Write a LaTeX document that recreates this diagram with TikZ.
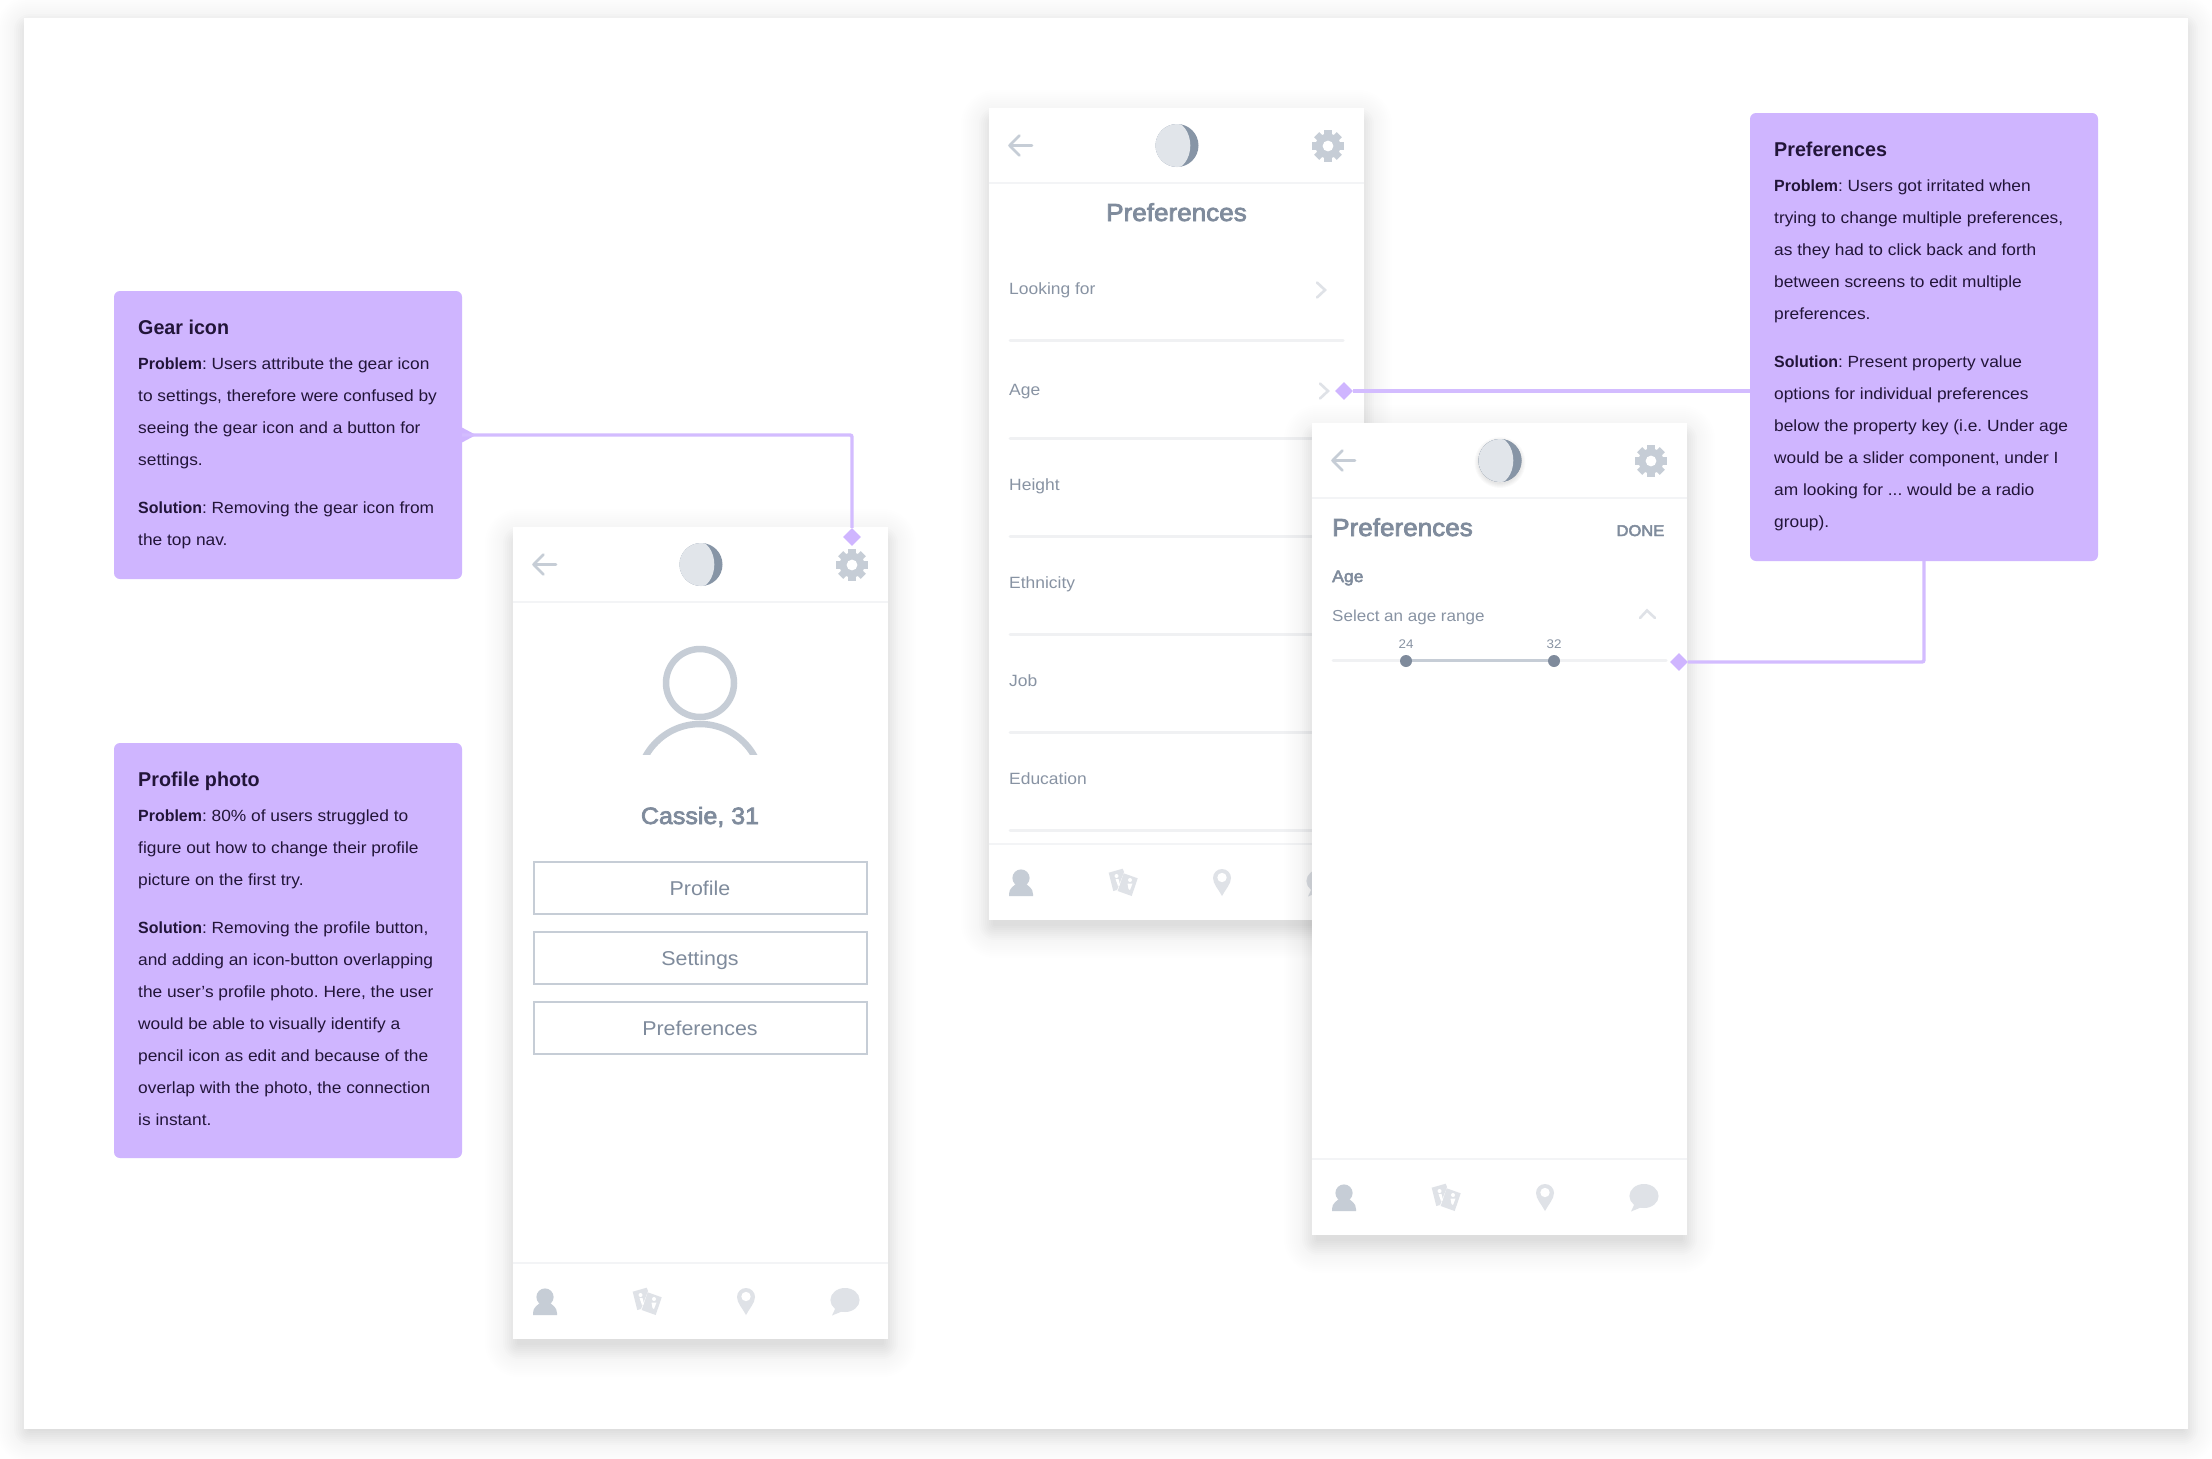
\documentclass[tikz,border=0pt]{standalone}
\usepackage{fontspec}
\usetikzlibrary{shapes.geometric}
\setmainfont[FakeStretch=1.07]{Liberation Sans}
\newfontfamily\medf[FakeStretch=1.06,FakeBold=3]{Liberation Sans}
\newfontfamily\bff[UprightFont=* Bold,FakeStretch=0.985]{Liberation Sans}
\definecolor{lilac}{HTML}{CFB5FF}
\definecolor{lilacln}{HTML}{D3BCFF}
\definecolor{inkdark}{HTML}{221539}
\definecolor{greytext}{HTML}{7F8B9C}
\definecolor{greylabel}{HTML}{8893A3}
\definecolor{icon}{HTML}{C6CDD6}
\definecolor{iconlight}{HTML}{DFE2E7}
\definecolor{rule}{HTML}{F0F1F3}
\definecolor{headrule}{HTML}{F3F4F6}
\definecolor{moondark}{HTML}{8795A6}
\definecolor{moonlight}{HTML}{E1E5EA}
\newcommand{\softshadow}[5]{% x1 y1 x2 y2 dy
  \foreach \sd in {12,14,...,28}{
    \fill[black,opacity=0.0045,rounded corners=\sd+6]
      ({#1-\sd},{#2+#5-\sd}) rectangle ({#3+\sd},{#4+#5+\sd});
  }
  \foreach \sd in {-4,-2,...,10}{
    \fill[black,opacity=0.012,rounded corners=\sd+6]
      ({#1-\sd},{#2+#5-\sd}) rectangle ({#3+\sd},{#4+#5+\sd});
  }}
\newcommand{\gearicon}{%
  \foreach \ang in {0,45,...,315}{
    \fill[icon,rotate=\ang] (-3.6,-16) rectangle (3.6,-9);
  }
  \fill[icon] (0,0) circle[radius=12.5];
  \fill[white] (0,0) circle[radius=5.4];}
\newcommand{\moonicon}{%
  \fill[moondark] (0,0) circle[radius=21.5];
  \begin{scope}
    \clip (0,0) circle[radius=21.5];
    \fill[moonlight] (-4.5,0) ellipse[x radius=17.8, y radius=24];
  \end{scope}}
% #1 prefix, #2 x, #3 y : screen frame with header and footer
\newcommand{\screenframe}[3]{%
  \softshadow{#2}{#3}{#2+375}{#3+812}{10}
  \node[screen,minimum width=375,minimum height=812] (#1) at (#2+187.5,#3+406) {};
  \begin{scope}[shift={(#2,#3)}]
    \draw[line width=1.5,headrule] (0,75) -- (375,75);
    \draw[line width=1.5,headrule] (0,736) -- (375,736);
    % back arrow
    \draw[line width=2.6,icon,line cap=round,line join=round] (43,37.5) -- (20.5,37.5) (30.5,27.5) -- (20.5,37.5) -- (30.5,47.5);
    % logo
    \begin{scope}[shift={(188,37.5)}]\moonicon\end{scope}
    % gear
    \begin{scope}[shift={(339,38)}]\gearicon\end{scope}
    % person tab
    \fill[icon] (32,770) circle[radius=8.6];
    \fill[icon] (20,788) -- (20,786) .. controls (20,780) and (25,778) .. (28,775) -- (36,775) .. controls (39,778) and (44,780) .. (44,786) -- (44,788) -- cycle;
    % cards tab
    \fill[iconlight] (119.7,764.7) -- (133.7,760.7) -- (135,764) -- (128,782) -- (124.3,783) -- cycle;
    \fill[iconlight] (134.7,765.3) -- (148.7,770.3) -- (142.7,788) -- (128.7,783) -- cycle;
    \fill[white] (127.5,768) circle[radius=2];
    \fill[white] (126.5,771) -- (129.5,771) -- (131,777) -- (129,778) -- cycle;
    \fill[white] (141,772) circle[radius=2];
    \fill[white] (138.5,775.5) -- (143.5,775.5) -- (141,782) -- (139.5,781) -- cycle;
    % pin tab
    \fill[iconlight] (233,788) .. controls (230,782) and (224,776) .. (224,770) .. controls (224,765) and (228,761) .. (233,761) .. controls (238,761) and (242,765) .. (242,770) .. controls (242,776) and (236,782) .. (233,788) -- cycle;
    \fill[white] (233,769.5) circle[radius=4.7];
    % chat tab
    \fill[iconlight] (332,773) ellipse[x radius=14.6, y radius=12];
    \fill[iconlight] (323,780) -- (319,788.5) -- (330,784) -- cycle;
  \end{scope}}
\tikzset{
  screen/.style={fill=white,draw=none,inner sep=0,rectangle},
  callbox/.style={fill=lilac,draw=none,rounded corners=6,inner sep=0,rectangle,minimum width=348},
  calltitle/.style={inner sep=0,anchor=base west,text=inkdark,font=\bff\fontsize{20}{24}\selectfont},
  callbody/.style={inner sep=0,anchor=north west,align=left,text=inkdark,font=\frenchspacing\fontsize{16.2}{32}\selectfont},
  lab/.style={inner sep=0,anchor=base west,text=greylabel,font=\frenchspacing\fontsize{16.3}{20}\selectfont},
  heading/.style={inner sep=0,anchor=base,text=greytext,font=\medf\fontsize{24.6}{28}\selectfont},
  btn/.style={draw=icon,line width=2.2,fill=white,inner sep=0,rectangle,minimum width=333,minimum height=52},
  btntext/.style={inner sep=0,anchor=base,text=greytext,font=\fontsize{20}{24}\selectfont},
  conn/.style={draw=lilacln,line width=3.4,rounded corners=2},
  dia/.style={diamond,fill=lilac,draw=none,inner sep=0,minimum width=18,minimum height=18},
  chev/.style={draw=iconlight,line width=2.6,line cap=round,line join=miter},
  divline/.style={draw=rule,line width=3,line cap=round},
}
\newcommand{\lstrut}{\rule{0pt}{13pt}}
\newcommand{\bt}[1]{{\bff #1}}
\begin{document}
\begin{tikzpicture}[x=1pt,y=-1pt]
\useasboundingbox (0,0) rectangle (2212,1459);
\fill[white] (0,0) rectangle (2212,1459);
% sheet
\softshadow{24}{18}{2188}{1429}{6}
\node[screen,minimum width=2164,minimum height=1411] (sheet) at (1106,723.5) {};

% --- callouts
\node[callbox,minimum height=288] (gcall) at (288,435) {};
\fill[lilac] (461,427) -- (476,435) -- (461,443) -- cycle;
\node[calltitle] (gtitle) at (138,334) {Gear icon};
\node[callbody] (gbody) at (138,356) {\lstrut\bt{Problem}: Users attribute the gear icon\\
to settings, therefore were confused by\\
seeing the gear icon and a button for\\
settings.\\[16pt]
\bt{Solution}: Removing the gear icon from\\
the top nav.};

\node[callbox,minimum height=415] (ccall) at (288,950.5) {};
\node[calltitle] (ctitle) at (138,786) {Profile photo};
\node[callbody] (cbody) at (138,808) {\lstrut\bt{Problem}: 80\% of users struggled to\\
figure out how to change their profile\\
picture on the first try.\\[16pt]
\bt{Solution}: Removing the profile button,\\
and adding an icon-button overlapping\\
the user’s profile photo. Here, the user\\
would be able to visually identify a\\
pencil icon as edit and because of the\\
overlap with the photo, the connection\\
is instant.};

\node[callbox,minimum height=448] (pcall) at (1924,337) {};
\node[calltitle] (ptitle) at (1774,156) {Preferences};
\node[callbody] (pbody) at (1774,178) {\lstrut\bt{Problem}: Users got irritated when\\
trying to change multiple preferences,\\
as they had to click back and forth\\
between screens to edit multiple\\
preferences.\\[16pt]
\bt{Solution}: Present property value\\
options for individual preferences\\
below the property key (i.e. Under age\\
would be a slider component, under I\\
am looking for ... would be a radio\\
group).};

% --- screen 1
\screenframe{sa}{513}{527}
\begin{scope}[shift={(513,527)}]
  \draw[icon,line width=6.5] (187,156) circle[radius=34];
  \begin{scope}
    \clip (100,180) rectangle (280,227);
    \draw[icon,line width=6.5] (187,259) circle[radius=62];
  \end{scope}
  \node[heading,font=\medf\fontsize{23.6}{28}\selectfont] (saname) at (187,297) {Cassie, 31};
  \node[btn] (sab1) at (187.5,361) {};
  \node[btn] (sab2) at (187.5,431) {};
  \node[btn] (sab3) at (187.5,501) {};
  \node[btntext] (sat1) at (187,368) {Profile};
  \node[btntext] (sat2) at (187,438) {Settings};
  \node[btntext] (sat3) at (187,508) {Preferences};
\end{scope}

% --- screen 2
\screenframe{sb}{989}{108}
\begin{scope}[shift={(989,108)}]
  \node[heading] (sbtitle) at (187.5,113) {Preferences};
  \node[lab] (sbl1) at (20,186) {Looking for};
  \node[lab] (sbl2) at (20,287) {Age};
  \node[lab] (sbl3) at (20,382) {Height};
  \node[lab] (sbl4) at (20,480) {Ethnicity};
  \node[lab] (sbl5) at (20,578) {Job};
  \node[lab] (sbl6) at (20,676) {Education};
  \foreach \yy in {232,330,428,526,624,722}{\draw[divline] (21,\yy) -- (354,\yy);}
  \draw[chev] (328,174.5) -- (336,182) -- (328,189.5);
  \draw[chev] (331,275.5) -- (339,283) -- (331,290.5);
\end{scope}

% --- screen 3
\screenframe{sc}{1312}{423}
\begin{scope}[shift={(1312,423)}]
  \foreach \ss in {1,...,5}{\fill[black,opacity=0.018] (188,39.5) circle[radius=20.5+\ss];}
  \begin{scope}[shift={(188,37.5)}]\moonicon\end{scope}
  \node[heading,anchor=base west] (sctitle) at (20,113) {Preferences};
  \node[lab,anchor=base east,text=greytext,font=\medf\fontsize{15.6}{20}\selectfont] (scdone) at (352.5,113) {DONE};
  \node[lab,text=greytext,font=\medf\fontsize{16.6}{20}\selectfont] (scage) at (20,159) {Age};
  \node[lab,font=\frenchspacing\fontsize{15.9}{20}\selectfont] (scsel) at (20,198) {Select an age range};
  \draw[chev] (328,195) -- (335,187.5) -- (343,195);
  \node[lab,anchor=base,font=\fontsize{12.5}{14}\selectfont] (sclo) at (94,225) {24};
  \node[lab,anchor=base,font=\fontsize{12.5}{14}\selectfont] (schi) at (242,225) {32};
  \draw[divline] (21,237) -- (354,237);
  \draw[draw=icon,line width=3] (94,237) -- (242,237);
  \fill[greytext] (94,238) circle[radius=6];
  \fill[greytext] (242,238) circle[radius=6];
\end{scope}

% --- connectors
\node[dia] (gdia) at (852,537) {};
\node[dia] (adia) at (1344,391) {};
\node[dia] (sdia) at (1679,662) {};
\coordinate (pcon) at (1750,391);
\draw[conn] (gcall.east) -| (gdia);
\draw[conn] (adia) -- (pcon);
\draw[conn] (pcall.south) |- (sdia);
\end{tikzpicture}
\end{document}
